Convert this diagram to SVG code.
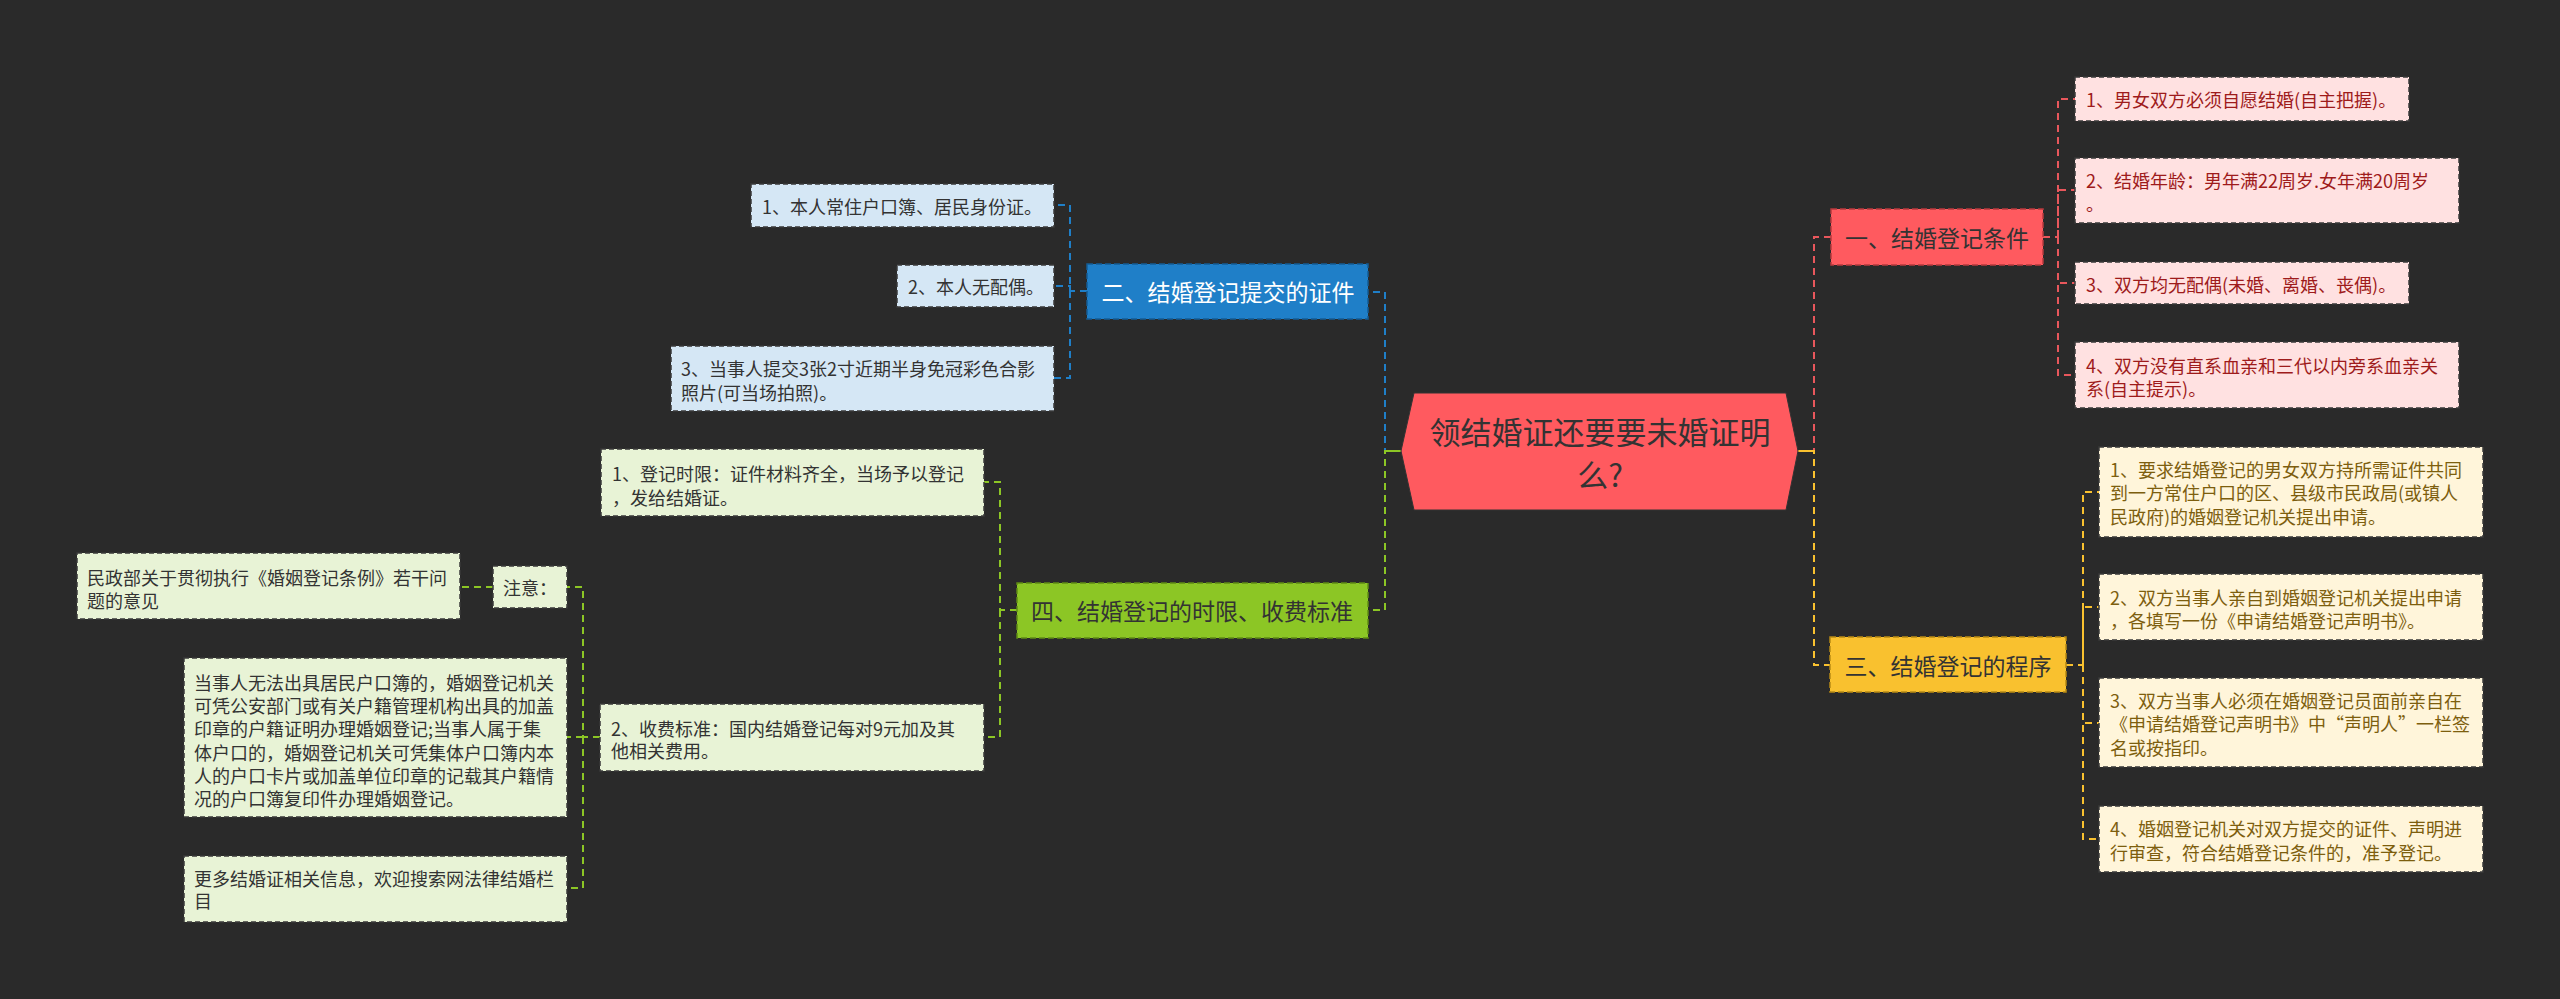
<svg xmlns="http://www.w3.org/2000/svg" width="2560" height="999" viewBox="0 0 2560 999">
<style>
text{font-family:"Noto Sans CJK SC","Noto Sans",sans-serif;dominant-baseline:central}
.leaf{font-size:18px}
.main{font-size:23px;text-anchor:middle}
.c{fill:none;stroke-width:2;stroke-dasharray:7 5}
.lb{stroke:#3a3a3a;stroke-width:1.5;stroke-dasharray:5 3}
.nb{stroke-width:1.5;stroke-dasharray:6 3}
.red{stroke:#e8575c}.blue{stroke:#1f7fc8}.green{stroke:#8cc625}.yel{stroke:#f9c12f}
.rl{fill:#ffe1e1}.rt{fill:#9e1b1b}
.bl{fill:#d5e7f5}.bt{fill:#333}
.yl{fill:#fff5da}.yt{fill:#7d5e0e}
.gl{fill:#e8f3d6}.gt{fill:#333}
</style>
<rect width="2560" height="999" fill="#2a2a2a"/>
<g id="connectors">
<path class="c blue" d="M1401 451H1385V292H1368"/>
<path class="c green" d="M1401 451H1385V610H1368"/>
<path class="c red" d="M1798 451H1814V237H1831"/>
<path class="c yel" d="M1798 451H1814V665H1830"/>
<path fill="none" stroke="#8cc625" stroke-width="2" d="M1385 451H1401"/>
<path fill="none" stroke="#f9c12f" stroke-width="2" d="M1798 451H1814"/>
<path class="c red" d="M2043 237H2058V99H2075M2058 237V190H2075M2058 237V283H2075M2058 237V375H2075"/>
<path class="c yel" d="M2066 665H2083V492H2099M2083 665V607H2099M2083 665V723H2099M2083 665V839H2099"/>
<path class="c blue" d="M1087 291H1070V205H1054M1070 291V286H1054M1070 291V378H1054"/>
<path class="c green" d="M1017 610H1000V482H984M1000 610V737H984"/>
<path class="c green" d="M600 737H583V587H567M583 737H567M583 737V888H567"/>
<path class="c green" d="M493 587H460"/>
</g>
<g id="root">
<polygon points="1414,393 1786,393 1798,451 1786,510 1414,510 1401,451" fill="#ff5a5f" stroke="#333" stroke-width="1"/>
<text x="1600" y="430" font-size="31" text-anchor="middle" fill="#333">领结婚证还要要未婚证明</text>
<text x="1600" y="473" font-size="31" text-anchor="middle" fill="#333">么?</text>
</g>
<g id="n1">
<rect x="1831" y="209" width="212" height="56" fill="#ff5a5f" class="nb" stroke="#b83a3e"/>
<text class="main" x="1937" y="237" fill="#333">一、结婚登记条件</text>
</g>
<g id="n2">
<rect x="1087" y="264" width="281" height="55" fill="#1f7fc8" class="nb" stroke="#145c94"/>
<text class="main" x="1228" y="291" fill="#fff">二、结婚登记提交的证件</text>
</g>
<g id="n3">
<rect x="1830" y="637" width="236" height="55" fill="#f9c12f" class="nb" stroke="#b88a14"/>
<text class="main" x="1948" y="665" fill="#333">三、结婚登记的程序</text>
</g>
<g id="n4">
<rect x="1017" y="583" width="351" height="55" fill="#8cc625" class="nb" stroke="#5f8c14"/>
<text class="main" x="1192" y="610" fill="#333">四、结婚登记的时限、收费标准</text>
</g>
<g id="r1"><rect class="rl lb" x="2075" y="77" width="334" height="44"/><text class="leaf rt" x="2086" y="99">1、男女双方必须自愿结婚(自主把握)。</text></g>
<g id="r2"><rect class="rl lb" x="2075" y="158" width="384" height="65"/><text class="leaf rt" x="2086" y="180">2、结婚年龄：男年满22周岁.女年满20周岁</text><text class="leaf rt" x="2086" y="203">。</text></g>
<g id="r3"><rect class="rl lb" x="2075" y="262" width="334" height="42"/><text class="leaf rt" x="2086" y="284">3、双方均无配偶(未婚、离婚、丧偶)。</text></g>
<g id="r4"><rect class="rl lb" x="2075" y="342" width="384" height="66"/><text class="leaf rt" x="2086" y="365">4、双方没有直系血亲和三代以内旁系血亲关</text><text class="leaf rt" x="2086" y="388">系(自主提示)。</text></g>
<g id="b1"><rect class="bl lb" x="751" y="184" width="303" height="43"/><text class="leaf bt" x="762" y="206">1、本人常住户口簿、居民身份证。</text></g>
<g id="b2"><rect class="bl lb" x="897" y="265" width="157" height="42"/><text class="leaf bt" x="908" y="286">2、本人无配偶。</text></g>
<g id="b3"><rect class="bl lb" x="671" y="346" width="383" height="65"/><text class="leaf bt" x="681" y="368">3、当事人提交3张2寸近期半身免冠彩色合影</text><text class="leaf bt" x="681" y="392">照片(可当场拍照)。</text></g>
<g id="y1"><rect class="yl lb" x="2099" y="447" width="384" height="90"/><text class="leaf yt" x="2110" y="469">1、要求结婚登记的男女双方持所需证件共同</text><text class="leaf yt" x="2110" y="492">到一方常住户口的区、县级市民政局(或镇人</text><text class="leaf yt" x="2110" y="516">民政府)的婚姻登记机关提出申请。</text></g>
<g id="y2"><rect class="yl lb" x="2099" y="574" width="384" height="66"/><text class="leaf yt" x="2110" y="597">2、双方当事人亲自到婚姻登记机关提出申请</text><text class="leaf yt" x="2110" y="620">，各填写一份《申请结婚登记声明书》。</text></g>
<g id="y3"><rect class="yl lb" x="2099" y="678" width="384" height="89"/><text class="leaf yt" x="2110" y="700">3、双方当事人必须在婚姻登记员面前亲自在</text><text class="leaf yt" x="2110" y="723">《申请结婚登记声明书》中“声明人”一栏签</text><text class="leaf yt" x="2110" y="747">名或按指印。</text></g>
<g id="y4"><rect class="yl lb" x="2099" y="806" width="384" height="66"/><text class="leaf yt" x="2110" y="828">4、婚姻登记机关对双方提交的证件、声明进</text><text class="leaf yt" x="2110" y="852">行审查，符合结婚登记条件的，准予登记。</text></g>
<g id="g1"><rect class="gl lb" x="601" y="449" width="383" height="67"/><text class="leaf gt" x="612" y="473">1、登记时限：证件材料齐全，当场予以登记</text><text class="leaf gt" x="612" y="497">，发给结婚证。</text></g>
<g id="g2"><rect class="gl lb" x="600" y="704" width="384" height="67"/><text class="leaf gt" x="611" y="728">2、收费标准：国内结婚登记每对9元加及其</text><text class="leaf gt" x="611" y="750">他相关费用。</text></g>
<g id="g3"><rect class="gl lb" x="493" y="566" width="74" height="42"/><text class="leaf gt" x="503" y="587">注意：</text></g>
<g id="g4"><rect class="gl lb" x="77" y="553" width="383" height="66"/><text class="leaf gt" x="87" y="577">民政部关于贯彻执行《婚姻登记条例》若干问</text><text class="leaf gt" x="87" y="600">题的意见</text></g>
<g id="g5"><rect class="gl lb" x="184" y="658" width="383" height="159"/><text class="leaf gt" x="194" y="682">当事人无法出具居民户口簿的，婚姻登记机关</text><text class="leaf gt" x="194" y="705">可凭公安部门或有关户籍管理机构出具的加盖</text><text class="leaf gt" x="194" y="728">印章的户籍证明办理婚姻登记;当事人属于集</text><text class="leaf gt" x="194" y="752">体户口的，婚姻登记机关可凭集体户口簿内本</text><text class="leaf gt" x="194" y="775">人的户口卡片或加盖单位印章的记载其户籍情</text><text class="leaf gt" x="194" y="798">况的户口簿复印件办理婚姻登记。</text></g>
<g id="g6"><rect class="gl lb" x="184" y="856" width="383" height="66"/><text class="leaf gt" x="194" y="878">更多结婚证相关信息，欢迎搜索网法律结婚栏</text><text class="leaf gt" x="194" y="900">目</text></g>
</svg>
